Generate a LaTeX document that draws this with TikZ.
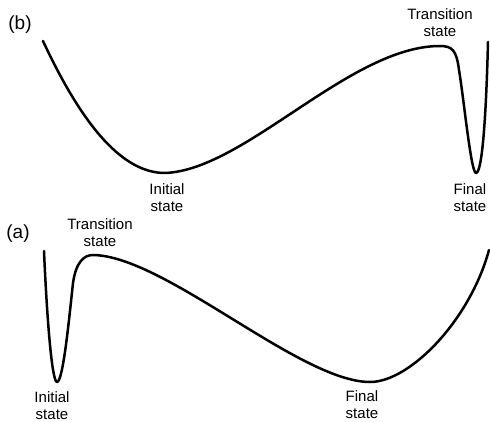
\documentclass[tikz,border=0pt]{standalone}
\usepackage{fontspec}
\setmainfont{Liberation Sans}
\begin{document}
\begin{tikzpicture}[x=1pt,y=-1pt,
  curve/.style={line width=2.5pt,line cap=round,line join=round},
  lbl/.style={align=center,inner sep=0pt,font=\fontsize{15}{17}\selectfont},
  panel/.style={inner sep=0pt,font=\fontsize{19}{21}\selectfont}]
\useasboundingbox (0,0) rectangle (490,422);
% panel (b)
\coordinate (b0) at (43,41);
\coordinate (bmin) at (165,173);
\coordinate (bts) at (440,46);
\coordinate (bk) at (459,70);
\coordinate (bfin) at (476,173);
\coordinate (bend) at (488,42);
\draw[curve] (b0) .. controls (84,129) and (124,173) .. (bmin)
  .. controls (245,170) and (350,46) .. (bts)
  .. controls (452,46) and (456.5,50) .. (bk)
  .. controls (464,100) and (471,173) .. (bfin)
  .. controls (482,173) and (486,120) .. (bend);
\node[panel] (lb) at (20,25) {(b)};
\node[lbl] (bi) at (167,198) {Initial\\state};
\node[lbl] (bt) at (440,23) {Transition\\state};
\node[lbl] (bf) at (470,198) {Final\\state};
% panel (a)
\coordinate (a0) at (44,251);
\coordinate (amin) at (57,382);
\coordinate (ak) at (73,283);
\coordinate (ats) at (93,255);
\coordinate (afin) at (370,382);
\coordinate (aend) at (489,250);
\draw[curve] (a0) .. controls (47,320) and (52,382) .. (amin)
  .. controls (63,382) and (69,320) .. (ak)
  .. controls (76,262) and (84,255) .. (ats)
  .. controls (165,256) and (300,382) .. (afin)
  .. controls (410,382) and (470,320) .. (aend);
\node[panel] (la) at (18,234) {(a)};
\node[lbl] (at) at (100,233) {Transition\\state};
\node[lbl] (ai) at (52,406) {Initial\\state};
\node[lbl] (af) at (362,405) {Final\\state};
\end{tikzpicture}
\end{document}
